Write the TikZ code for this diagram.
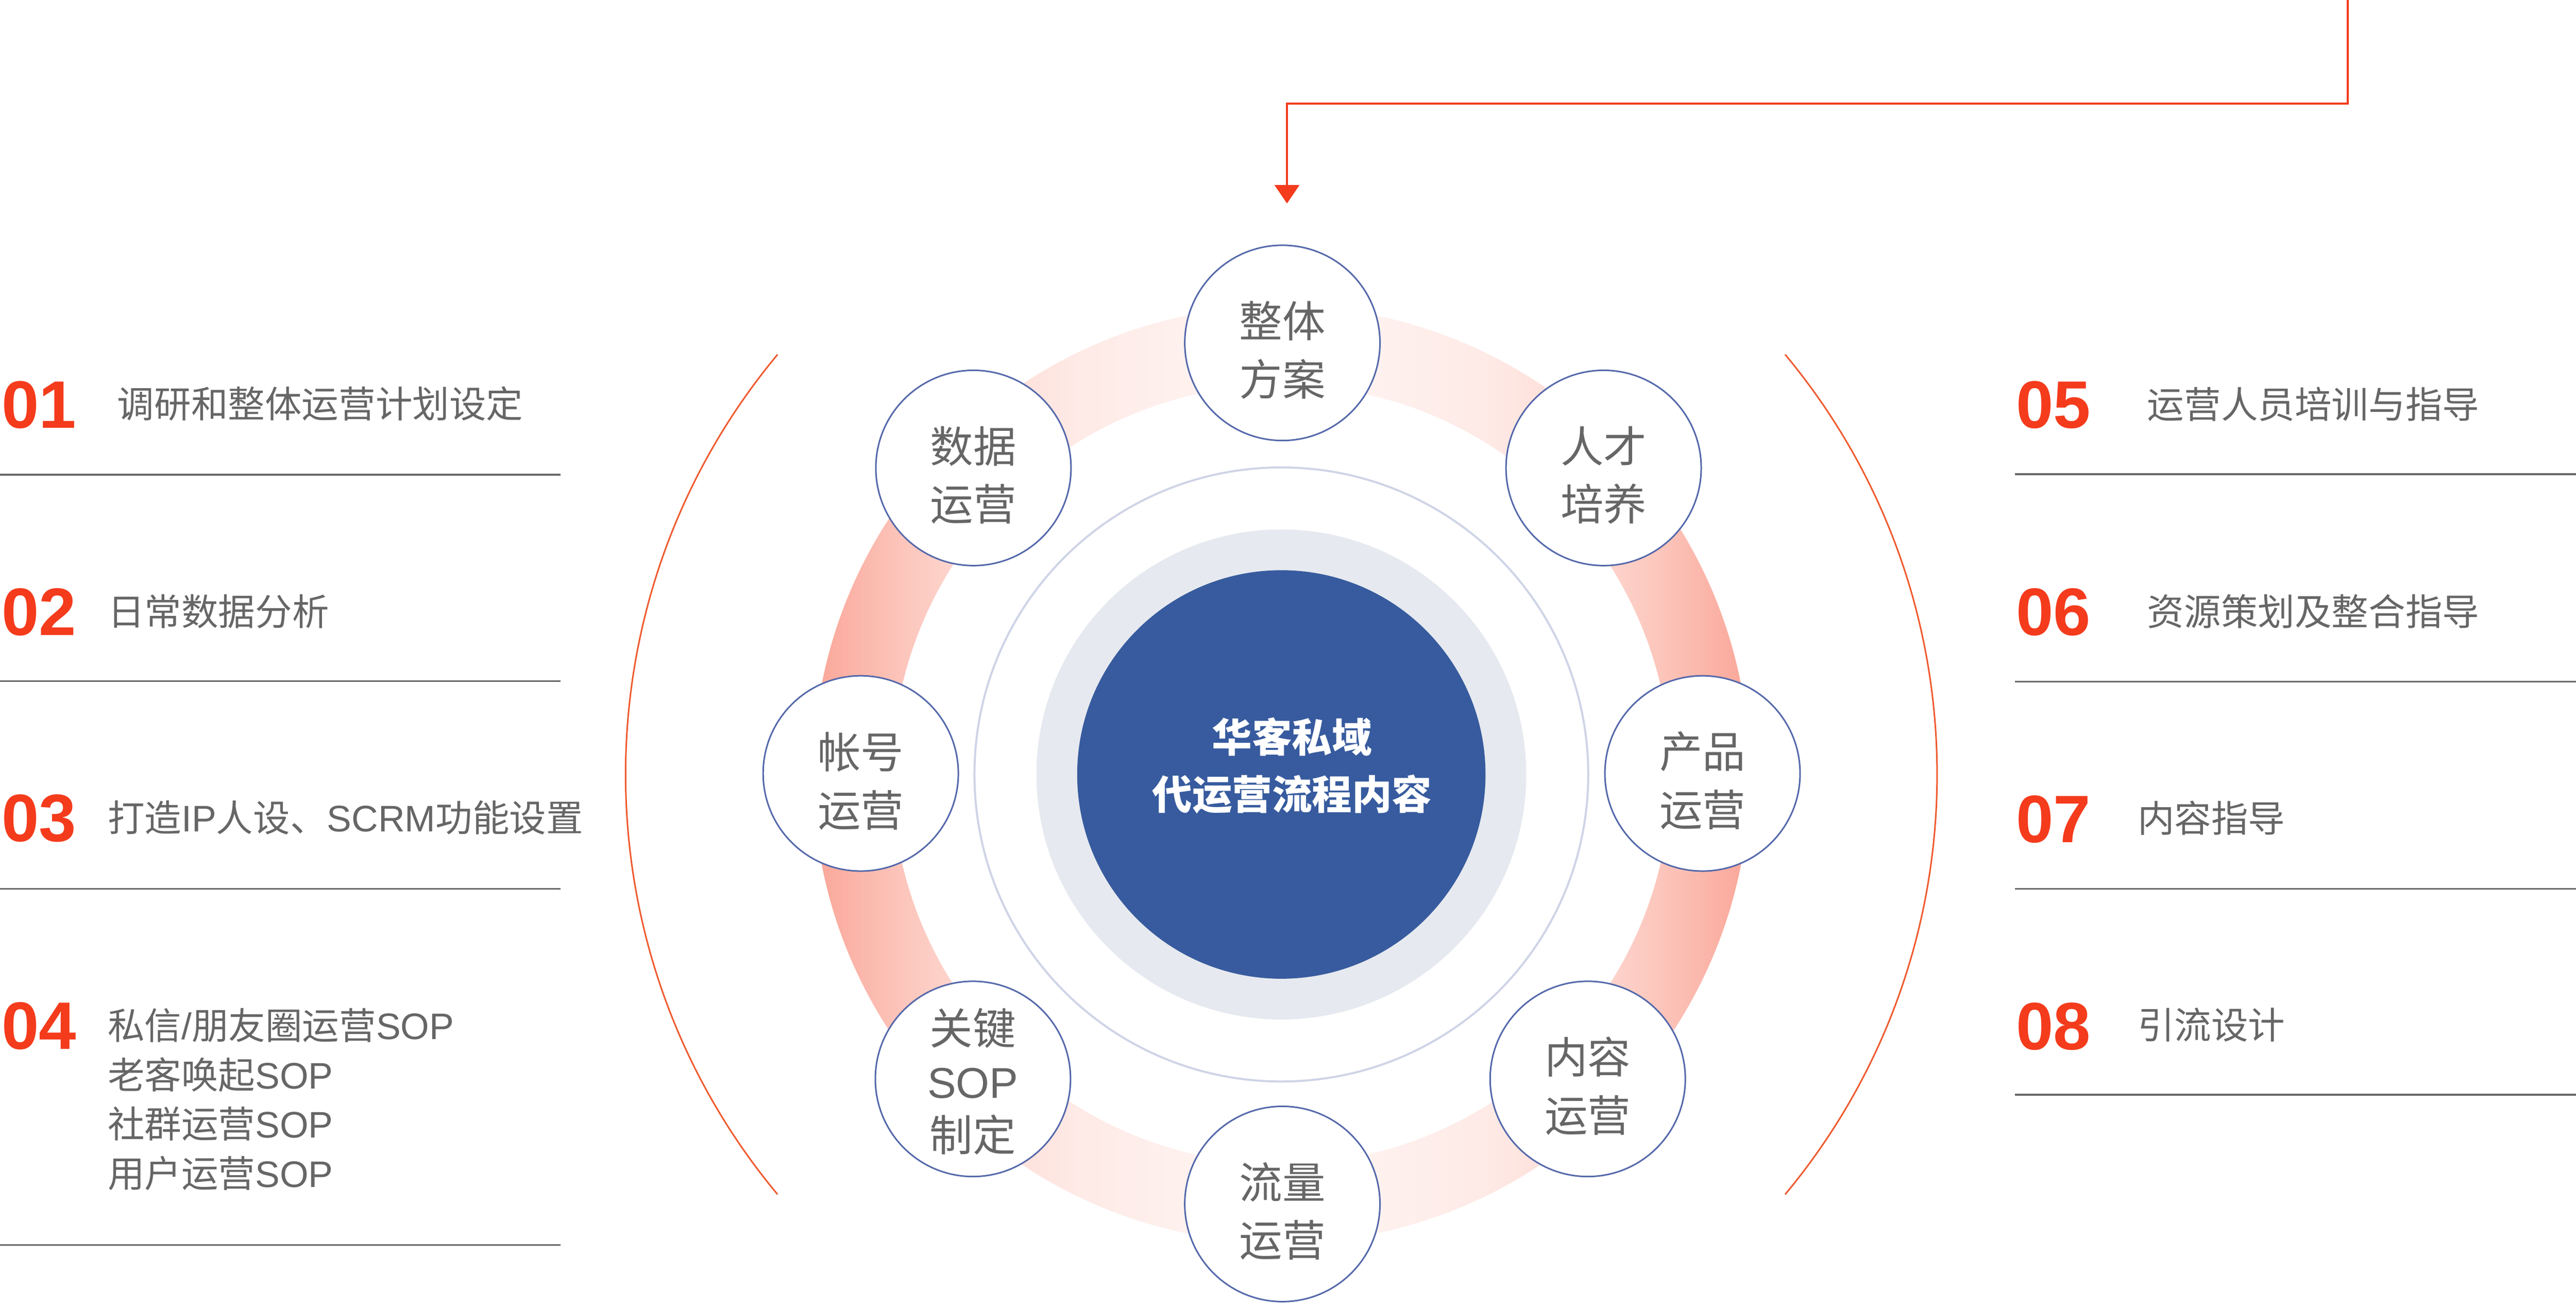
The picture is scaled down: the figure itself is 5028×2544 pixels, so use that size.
\documentclass[tikz,border=0pt]{standalone}
\usepackage{fontspec}
\usetikzlibrary{arrows.meta}
\newfontfamily\cjk{Noto Sans CJK SC}
\newfontfamily\latf{Liberation Sans}
\newcommand\latn[1]{{\latf #1}}
\definecolor{numred}{HTML}{F43B1C}
\definecolor{arcred}{HTML}{EF5A2E}
\definecolor{txtgray}{HTML}{666666}
\definecolor{linegray}{HTML}{686868}
\definecolor{nodeblue}{HTML}{5468AA}
\definecolor{centerblue}{HTML}{375B9E}
\definecolor{haloGray}{HTML}{E6E9EF}
\definecolor{lavender}{HTML}{CFD4E7}
\definecolor{rA}{HTML}{FAA698}
\definecolor{rB}{HTML}{FCC6BC}
\definecolor{rC}{HTML}{FDDAD3}
\definecolor{rD}{HTML}{FEEAE6}
\definecolor{rE}{HTML}{FFF7F5}
\pgfdeclarehorizontalshading{ringL}{100bp}{color(0bp)=(rA); color(25bp)=(rA); color(34.8bp)=(rB); color(42.2bp)=(rC); color(53.1bp)=(rD); color(75bp)=(rE); color(100bp)=(rE)}
\pgfdeclarehorizontalshading{ringR}{100bp}{color(0bp)=(rE); color(25bp)=(rE); color(46.9bp)=(rD); color(57.8bp)=(rC); color(65.2bp)=(rB); color(75bp)=(rA); color(100bp)=(rA)}
\begin{document}
\begin{tikzpicture}[x=1pt,y=-1pt,
  stepnode/.style={circle, draw=nodeblue, line width=3pt, fill=white, minimum size=381pt, inner sep=0pt},
  ntext/.style={font=\cjk\fontsize{84}{113}\selectfont, text=txtgray, align=center, inner sep=0pt},
  num/.style={font=\latf\bfseries\fontsize{131}{131}\selectfont, text=numred, anchor=base west, inner sep=0pt},
  item/.style={font=\cjk\fontsize{72}{96}\selectfont, text=txtgray, anchor=base west, inner sep=0pt},
  sep/.style={draw=linegray, line width=3.5pt},
  bigarc/.style={draw=arcred, line width=3pt},
  arr/.style={draw=numred, line width=4pt, -{Triangle[length=36pt,width=48pt]}}]
\useasboundingbox (0,0) rectangle (5028,2544);
\fill[white] (0,0) rectangle (5028,2544);
\coordinate (c) at (2501,1511);
% gradient ring
\begin{scope}
  \clip (c) circle[radius=914pt];
  \shade[shading=ringL] (1587,597) rectangle (2501,2425);
  \shade[shading=ringR] (2501,597) rectangle (3415,2425);
\end{scope}
\fill[white] (c) circle[radius=760pt];
\draw[lavender, line width=4pt] (c) circle[radius=599pt];
\fill[haloGray] (c) circle[radius=478pt];
\node[circle, fill=centerblue, minimum size=797pt, inner sep=0pt] (core) at (c) {};
\node[font=\cjk\bfseries\fontsize{78}{111}\selectfont, text=white, align=center, inner sep=0pt] (coretext) at (2522,1494) {华客私域\\代运营流程内容};
% big arcs
\draw[bigarc] ([shift={(c)}]140.2:1280pt) arc[start angle=140.2, end angle=219.8, radius=1280pt];
\draw[bigarc] ([shift={(c)}]-39.8:1280pt) arc[start angle=-39.8, end angle=39.8, radius=1280pt];
% step nodes
\node[stepnode] (n1) at (2503,669) {};
\node[stepnode] (n2) at (3130,913) {};
\node[stepnode] (n3) at (3323,1509) {};
\node[stepnode] (n4) at (3099,2105) {};
\node[stepnode] (n5) at (2503,2349) {};
\node[stepnode] (n6) at (1899,2105) {};
\node[stepnode] (n7) at (1680,1509) {};
\node[stepnode] (n8) at (1900,913) {};
\node[ntext] (t1) at (2503,683) {整体\\方案};
\node[ntext] (t2) at (3130,927) {人才\\培养};
\node[ntext] (t3) at (3323,1523) {产品\\运营};
\node[ntext] (t4) at (3099,2119) {内容\\运营};
\node[ntext] (t5) at (2503,2363) {流量\\运营};
\node[ntext, font=\cjk\fontsize{84}{104}\selectfont] (t6) at (1899,2110) {关键\\\latn{SOP}\\制定};
\node[ntext] (t7) at (1680,1524) {帐号\\运营};
\node[ntext] (t8) at (1900,927) {数据\\运营};
% left list
\node[num] (l1) at (3,835) {01};
\node[num] (l2) at (3,1239) {02};
\node[num] (l3) at (3,1642) {03};
\node[num] (l4) at (3,2047) {04};
\node[item] (i1) at (229,815) {调研和整体运营计划设定};
\node[item] (i2) at (210,1220) {日常数据分析};
\node[item] (i3) at (210,1623) {打造\latn{IP}人设、\latn{SCRM}功能设置};
\node[item] (i4a) at (210,2028) {私信\latn{/}朋友圈运营\latn{SOP}};
\node[item] (i4b) at (210,2124) {老客唤起\latn{SOP}};
\node[item] (i4c) at (210,2220) {社群运营\latn{SOP}};
\node[item] (i4d) at (210,2316) {用户运营\latn{SOP}};
\draw[sep] (0,926) -- (1094,926);
\draw[sep] (0,1329) -- (1094,1329);
\draw[sep] (0,1734) -- (1094,1734);
\draw[sep] (0,2429) -- (1094,2429);
% right list
\node[num] (r1) at (3935,835) {05};
\node[num] (r2) at (3935,1239) {06};
\node[num] (r3) at (3935,1644) {07};
\node[num] (r4) at (3935,2048) {08};
\node[item] (j1) at (4191,816) {运营人员培训与指导};
\node[item] (j2) at (4191,1220) {资源策划及整合指导};
\node[item] (j3) at (4172,1624) {内容指导};
\node[item] (j4) at (4172,2027) {引流设计};
\draw[sep] (3933,925) -- (5028,925);
\draw[sep] (3933,1330) -- (5028,1330);
\draw[sep] (3933,1734) -- (5028,1734);
\draw[sep] (3933,2136) -- (5028,2136);
% arrow
\coordinate (src) at (4582,0);
\coordinate (bend) at (2512,202);
\coordinate (tip) at (2512,397);
\draw[arr] (src) |- (bend) -- (tip);
\end{tikzpicture}
\end{document}
